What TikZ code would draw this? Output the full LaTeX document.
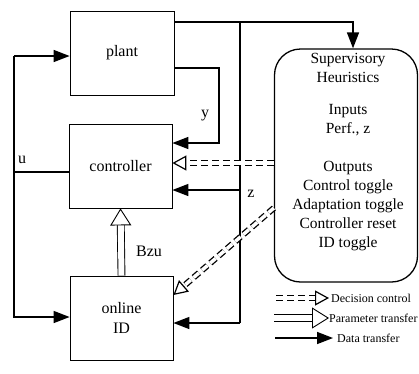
\documentclass[tikz,border=0pt]{standalone}
\usepackage{fontspec}
\setmainfont{Liberation Serif}
\usetikzlibrary{arrows.meta, positioning, calc}

\begin{document}
\begin{tikzpicture}[
    x=1pt, y=-1pt,
    block/.style={rectangle, draw=black, line width=0.8pt, fill=white,
                  minimum width=103pt, minimum height=84pt, align=center,
                  font=\fontsize{16}{20}\selectfont},
    supbox/.style={rectangle, draw=black, line width=1.3pt, rounded corners=26pt,
                   minimum width=143pt, minimum height=233pt},
    data/.style={line width=1.5pt, -{Triangle[length=16pt, width=12pt]}},
    datapar/.style={line width=1.5pt},
    param/.style={double, double distance=6pt, line width=0.9pt,
                  -{Triangle[fill=white, line width=0.9pt, length=17pt, width=21pt]}},
    decision/.style={dashed, dash pattern=on 7pt off 4pt, double, double distance=3.5pt,
                     line width=1.3pt,
                     -{Triangle[open, fill=white, line width=1.2pt, length=14pt, width=15pt]}},
    sig/.style={font=\fontsize{16}{20}\selectfont},
    legtext/.style={anchor=west, inner sep=0pt, font=\fontsize{12}{14}\selectfont}
]
\useasboundingbox (0,0) rectangle (419,373);
%% Blocks
\node[block, minimum width=104pt] (plant) at (122,53) {plant};
\node[block] (controller) at (120.5,166) {controller};
\node[block] (onlineid) at (121.5,318) {online\\ID};
%% Supervisory heuristics
\node[supbox] (sup) at (346,165.5) {};
\node[anchor=north, align=center, inner sep=0pt, font=\fontsize{15.5}{19}\selectfont]
      (suptext) at (348,53)
      {Supervisory\\Heuristics\\[13pt]Inputs\\Perf., z\\[19pt]Outputs\\Control toggle\\
       Adaptation toggle\\Controller reset\\ID toggle};
%% Junction points
\coordinate (ztap) at (240,22);
\coordinate (supin) at (353,22);
\coordinate (zmid) at (240,190);
\coordinate (zbot) at (240,323);
\coordinate (ycorner) at (219,143);
\coordinate (utop) at (14,56);
\coordinate (ujoin) at (14,172);
\coordinate (ubot) at (14,317);
%% Plant output z
\draw[data] (plant.east |- ztap) -- (supin) -- (supin |- sup.north);
\draw[datapar] (ztap) -- (zbot);
\draw[data] (zmid) -- (controller.east |- zmid);
\draw[data] (zbot) -- (onlineid.east |- zbot);
\node[sig] (zlabel) at (251,194) {z};
%% Plant output y
\draw[data] (plant.east |- 0,68) -| (ycorner) -- (controller.east |- ycorner);
\node[sig] (ylabel) at (205,116) {y};
%% Control input u
\draw[datapar] (controller.west |- ujoin) -- (ujoin);
\draw[data] (utop) -- (plant.west |- utop);
\draw[data] (utop) -- (ubot) -- (onlineid.west |- ubot);
\node[sig] (ulabel) at (22,160) {u};
%% Parameter transfer
\draw[param] (onlineid.north) -- (controller.south);
\node[sig] (bzulabel) at (149,251) {Bzu};
%% Decision control
\draw[decision] (sup.west |- 0,163) -- (controller.east |- 0,163);
\draw[decision] (sup.west |- 0,208) -- (onlineid.east |- 0,295);
%% Legend
\coordinate (legdecstart) at (276,298);
\coordinate (legparstart) at (274,318);
\coordinate (legdatstart) at (275,338);
\node[legtext] (legdec) at (331,298) {Decision control};
\node[legtext] (legpar) at (329,318) {Parameter transfer};
\node[legtext] (legdat) at (337,338) {Data transfer};
\draw[decision] (legdecstart) -- ($(legdec.west)+(-2,0)$);
\draw[param] (legparstart) -- (legpar.west);
\draw[data] (legdatstart) -- ($(legdat.west)+(-4,0)$);
\end{tikzpicture}
\end{document}
